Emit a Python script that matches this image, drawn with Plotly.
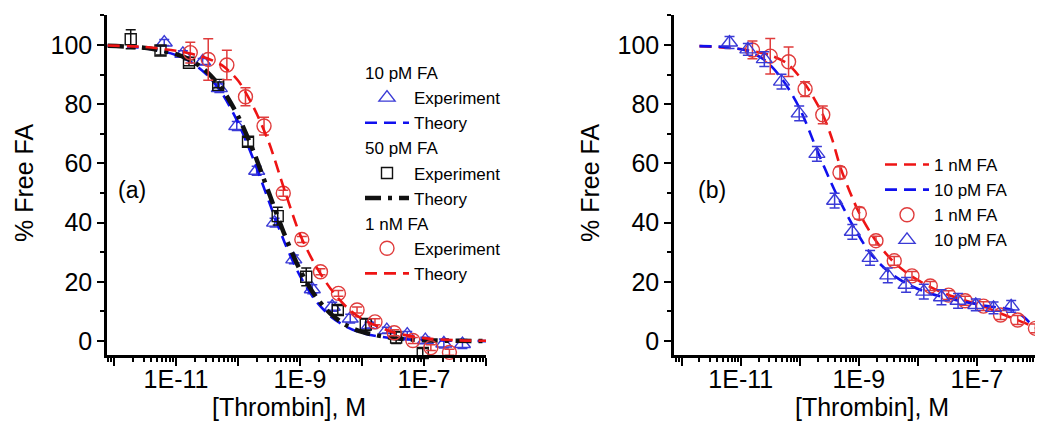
import plotly.graph_objects as go

# ---------------- Panel (a) data ----------------
a_tri_conc = [6.46e-12, 1.29e-11, 2.69e-11, 5.0e-11, 9.55e-11, 2.0e-10, 3.89e-10, 7.94e-10,
              1.58e-9, 3.31e-9, 6.46e-9, 1.32e-8, 2.51e-8, 5.37e-8, 1.05e-7, 2.09e-7, 4.17e-7]
a_tri_free = [100.8, 97.0, 94.4, 85.4, 72.6, 57.5, 40.0, 27.6, 17.5, 11.6, 7.6, 5.4, 3.7, 2.2, 0.3, -0.8, -1.0]
a_tri_err = [1.0, 1.0, 1.0, 1.5, 1.5, 1.5, 1.5, 1.5, 1.5, 1.5, 1.5, 1.0, 1.0, 1.0, 1.0, 1.5, 1.5]

a_sq_conc = [1.86e-12, 5.62e-12, 1.62e-11, 4.79e-11, 1.45e-10, 4.37e-10, 1.26e-9, 4.07e-9,
             1.15e-8, 3.55e-8, 9.55e-8]
a_sq_free = [101.9, 98.1, 94.0, 86.5, 67.3, 42.2, 21.7, 10.5, 5.6, 1.2, -4.0]
a_sq_err = [3.2, 1.5, 1.0, 1.0, 1.5, 3.0, 3.0, 1.5, 2.0, 2.0, 1.5]

a_circ_conc = [1.70e-11, 3.31e-11, 6.61e-11, 1.32e-10, 2.63e-10, 5.37e-10, 1.07e-9, 2.14e-9,
               4.17e-9, 8.32e-9, 1.62e-8, 3.31e-8, 6.61e-8, 1.29e-7, 2.57e-7]
a_circ_free = [97.4, 95.1, 93.2, 82.5, 72.6, 49.9, 34.3, 23.4, 16.1, 10.5, 6.5, 2.8, 0.2, -2.2, -3.8]
a_circ_err = [3.5, 7.0, 5.0, 3.0, 3.0, 1.0, 1.0, 1.0, 1.0, 1.0, 1.0, 1.0, 1.0, 1.0, 1.0]

a_theory_conc = [7.9e-13, 3.16e-12, 1.0e-11, 1.78e-11, 3.16e-11, 5.62e-11, 1.0e-10, 1.78e-10,
                 3.16e-10, 5.62e-10, 1.0e-9, 1.78e-9, 3.16e-9, 5.62e-9, 1.0e-8, 3.16e-8,
                 1.0e-7, 3.16e-7, 1.0e-6]
a_theory_10pM = [99.7, 98.9, 96.6, 94.1, 89.9, 83.4, 73.8, 61.3, 47.1, 33.4, 22.0, 13.7, 8.2, 4.8,
                 2.7, 0.9, 0.3, 0.1, 0.0]
a_theory_50pM = [99.7, 99.0, 96.9, 94.7, 90.9, 84.9, 76.0, 64.0, 50.0, 36.0, 24.0, 15.1, 9.1, 5.3,
                 3.1, 1.0, 0.3, 0.1, 0.0]
a_theory_1nM = [99.8, 99.3, 98.0, 97.0, 95.5, 93.0, 88.0, 79.0, 67.0, 51.0, 36.0, 25.5, 17.5, 11.5,
                7.5, 3.0, 1.0, 0.3, 0.1]

# ---------------- Panel (b) data ----------------
b_tri_conc = [6.46e-12, 1.32e-11, 2.51e-11, 4.90e-11, 9.77e-11, 1.95e-10, 3.89e-10, 7.76e-10,
              1.55e-9, 3.09e-9, 6.31e-9, 1.26e-8, 2.51e-8, 4.79e-8, 9.55e-8, 1.91e-7, 3.80e-7]
b_tri_free = [100.8, 98.5, 95.2, 87.6, 76.9, 63.2, 47.4, 36.9, 28.1, 22.2, 19.0, 16.7, 14.8, 13.6,
              12.2, 11.2, 11.7]
b_tri_err = [2.0, 2.0, 2.5, 2.5, 2.5, 2.5, 2.5, 2.5, 2.5, 2.5, 2.5, 2.5, 2.5, 2.5, 2.0, 2.0, 2.0]

b_circ_conc = [1.58e-11, 3.16e-11, 6.46e-11, 1.23e-10, 2.45e-10, 4.79e-10, 1.02e-9, 1.95e-9,
               3.98e-9, 7.94e-9, 1.62e-8, 3.31e-8, 6.31e-8, 1.29e-7, 2.51e-7, 4.90e-7, 9.77e-7]
b_circ_free = [98.3, 96.2, 94.3, 85.1, 76.4, 56.9, 43.1, 33.9, 27.1, 22.0, 18.6, 15.5, 13.6, 11.8,
               8.8, 7.1, 4.3]
b_circ_err = [3.0, 6.0, 5.0, 2.5, 3.0, 2.0, 2.0, 1.5, 1.5, 1.5, 1.5, 1.5, 1.5, 1.5, 1.5, 1.5, 1.5]

b_theory_1nM_conc = [2.0e-12, 1.0e-11, 3.16e-11, 6.31e-11, 1.26e-10, 2.51e-10, 3.55e-10, 5.01e-10,
                     1.0e-9, 2.0e-9, 3.98e-9, 7.94e-9, 1.58e-8, 3.16e-8, 6.31e-8, 1.26e-7,
                     2.51e-7, 5.01e-7, 1.0e-6]
b_theory_1nM = [99.6, 98.6, 96.5, 93.5, 86.5, 76.0, 68.0, 58.0, 43.5, 33.5, 26.5, 21.8, 18.4, 15.7,
                13.7, 11.8, 9.3, 7.0, 4.5]
b_theory_10pM_conc = [2.0e-12, 6.31e-12, 1.26e-11, 2.51e-11, 5.01e-11, 1.0e-10, 2.0e-10, 3.98e-10,
                      7.94e-10, 1.58e-9, 3.16e-9, 6.31e-9, 1.26e-8, 2.51e-8, 5.01e-8, 1.0e-7,
                      2.0e-7, 3.98e-7, 6.31e-7, 8.91e-7]
b_theory_10pM = [99.6, 99.2, 98.0, 95.0, 88.5, 78.5, 64.0, 50.5, 39.0, 29.5, 23.5, 19.5, 16.8, 15.0,
                 13.6, 12.4, 11.5, 10.5, 8.0, 5.0]

decades = [1e-12, 1e-11, 1e-10, 1e-9, 1e-8, 1e-7, 1e-6]
decade_labels = ["", "1E-11", "", "1E-9", "", "1E-7", ""]
y_ticks = [0, 20, 40, 60, 80, 100]

# ---------------- styling ----------------
FONT = "Arial, Liberation Sans, Arimo, sans-serif"
BLUE_M = "#3a3ad6"
BLUE_L = "#1010ee"
RED_M = "#e03c3c"
RED_L = "#ee1414"
BLACK = "#111111"
LEG_FS = 17

W, H = 1043, 421
OFF = 8  # page body margin


def px(x):
    return (x - OFF) / W


def py(y):
    return 1 - (y - OFF) / H


fig = go.Figure()


def err(arr, color):
    return dict(type="data", array=arr, color=color, thickness=1.5, width=5, visible=True)


def gtitle(t):
    return dict(text=t, font=dict(size=LEG_FS, family=FONT, color="black"))


# Panel (a)
fig.add_trace(go.Scatter(
    x=a_tri_conc, y=a_tri_free, mode="markers", name="Experiment",
    legendgroup="g10", legendgrouptitle=gtitle("10 pM FA"),
    marker=dict(symbol="triangle-up-open", size=14, color=BLUE_M, line=dict(width=1.4)),
    error_y=err(a_tri_err, BLUE_M), cliponaxis=False, xaxis="x", yaxis="y", legend="legend"))
fig.add_trace(go.Scatter(
    x=a_theory_conc, y=a_theory_10pM, mode="lines", name="Theory", legendgroup="g10",
    line=dict(color=BLUE_L, width=2.6, dash="12px,7px", shape="spline", smoothing=0.8),
    xaxis="x", yaxis="y", legend="legend"))
fig.add_trace(go.Scatter(
    x=a_sq_conc, y=a_sq_free, mode="markers", name="Experiment",
    legendgroup="g50", legendgrouptitle=gtitle("50 pM FA"),
    marker=dict(symbol="square-open", size=11, color=BLACK, line=dict(width=1.4)),
    error_y=err(a_sq_err, BLACK), cliponaxis=False, xaxis="x", yaxis="y", legend="legend"))
fig.add_trace(go.Scatter(
    x=a_theory_conc, y=a_theory_50pM, mode="lines", name="Theory", legendgroup="g50",
    line=dict(color=BLACK, width=4.5, dash="16px,7px,4px,7px", shape="spline", smoothing=0.8),
    xaxis="x", yaxis="y", legend="legend"))
fig.add_trace(go.Scatter(
    x=a_circ_conc, y=a_circ_free, mode="markers", name="Experiment",
    legendgroup="g1n", legendgrouptitle=gtitle("1 nM FA"),
    marker=dict(symbol="circle-open", size=14, color=RED_M, line=dict(width=1.4)),
    error_y=err(a_circ_err, RED_M), cliponaxis=False, xaxis="x", yaxis="y", legend="legend"))
fig.add_trace(go.Scatter(
    x=a_theory_conc, y=a_theory_1nM, mode="lines", name="Theory", legendgroup="g1n",
    line=dict(color=RED_L, width=2.6, dash="12px,7px", shape="spline", smoothing=0.8),
    xaxis="x", yaxis="y", legend="legend"))

# Panel (b)
fig.add_trace(go.Scatter(
    x=b_theory_1nM_conc, y=b_theory_1nM, mode="lines", name="1 nM FA",
    line=dict(color=RED_L, width=2.6, dash="12px,7px", shape="spline", smoothing=0.8),
    xaxis="x2", yaxis="y2", legend="legend2"))
fig.add_trace(go.Scatter(
    x=b_theory_10pM_conc, y=b_theory_10pM, mode="lines", name="10 pM FA",
    line=dict(color=BLUE_L, width=2.6, dash="12px,7px", shape="spline", smoothing=0.8),
    xaxis="x2", yaxis="y2", legend="legend2"))
fig.add_trace(go.Scatter(
    x=b_circ_conc, y=b_circ_free, mode="markers", name="1 nM FA",
    marker=dict(symbol="circle-open", size=14, color=RED_M, line=dict(width=1.4)),
    error_y=err(b_circ_err, RED_M), cliponaxis=False, xaxis="x2", yaxis="y2", legend="legend2"))
fig.add_trace(go.Scatter(
    x=b_tri_conc, y=b_tri_free, mode="markers", name="10 pM FA",
    marker=dict(symbol="triangle-up-open", size=14, color=BLUE_M, line=dict(width=1.4)),
    error_y=err(b_tri_err, BLUE_M), cliponaxis=False, xaxis="x2", yaxis="y2", legend="legend2"))

ydom = [py(355), py(15)]

xcommon = dict(
    type="log", showline=True, linecolor="black", linewidth=2.5, mirror=False,
    ticks="outside", ticklen=8, tickwidth=2, tickcolor="black",
    tickmode="array", tickvals=decades, ticktext=decade_labels,
    tickfont=dict(size=25, family=FONT, color="black"), ticklabelstandoff=-8,
    minor=dict(ticks="outside", ticklen=4, tickwidth=1.5, tickcolor="black", dtick="D1", showgrid=False),
    showgrid=False, zeroline=False, automargin=False,
)
ycommon = dict(
    range=[-4.7, 110.1], showline=True, linecolor="black", linewidth=2.5, mirror=False,
    ticks="outside", ticklen=7, tickwidth=2, tickcolor="black",
    tickmode="array", tickvals=y_ticks,
    tickfont=dict(size=25, family=FONT, color="black"),
    minor=dict(ticks="outside", ticklen=4, tickwidth=1.5, tickcolor="black", dtick=10, showgrid=False),
    showgrid=False, zeroline=False, automargin=False,
)


def ann(text, x, y, size, angle=0):
    return dict(text=text, x=px(x), y=py(y), xref="paper", yref="paper",
                xanchor="center", yanchor="middle", textangle=angle, showarrow=False,
                font=dict(size=size, family=FONT, color="black"))


fig.update_layout(
    width=W, height=H, margin=dict(l=0, r=0, t=0, b=0, pad=0),
    paper_bgcolor="white", plot_bgcolor="white",
    font=dict(family=FONT, color="black"),
    xaxis=dict(xcommon, domain=[px(107), px(486)], range=[-12.113, -6.0], anchor="y"),
    yaxis=dict(ycommon, domain=ydom, anchor="x"),
    xaxis2=dict(xcommon, domain=[px(674), px(1036)], range=[-12.13, -6.0], anchor="y2"),
    yaxis2=dict(ycommon, domain=ydom, anchor="x2"),
    legend=dict(x=px(360), y=py(55), xanchor="left", yanchor="top",
                bgcolor="rgba(0,0,0,0)", font=dict(size=LEG_FS, family=FONT, color="black"),
                tracegroupgap=0, traceorder="grouped", itemwidth=44),
    legend2=dict(x=px(880), y=py(147), xanchor="left", yanchor="top",
                 bgcolor="rgba(0,0,0,0)", font=dict(size=LEG_FS, family=FONT, color="black"),
                 itemwidth=44),
    showlegend=True,
    annotations=[
        ann("% Free FA", 24, 183, 25, -90),
        ann("% Free FA", 590, 183, 25, -90),
        ann("[Thrombin], M", 289, 407, 25),
        ann("[Thrombin], M", 872, 407, 25),
        ann("(a)", 132, 190, 23),
        ann("(b)", 712, 190, 23),
    ],
)

fig.write_html("out.html")
